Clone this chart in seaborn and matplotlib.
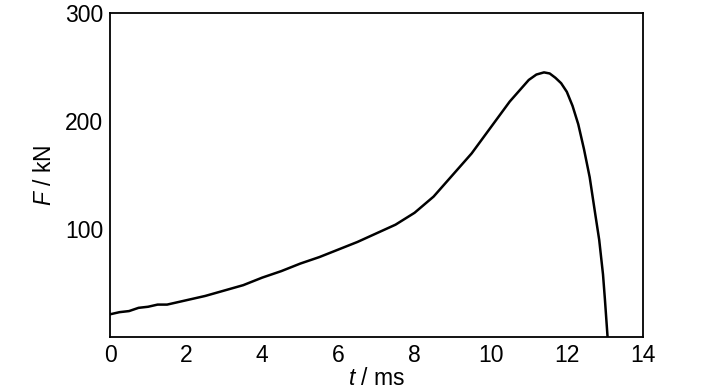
import matplotlib
matplotlib.use("Agg")
import matplotlib.pyplot as plt
import seaborn as sns
import pandas as pd
from matplotlib.ticker import MultipleLocator

t_ms = [0, 0.25, 0.5, 0.75, 1.0, 1.25, 1.5, 1.75, 2.0, 2.5, 3.0, 3.5, 4.0, 4.5, 5.0, 5.5, 6.0,
        6.5, 7.0, 7.5, 8.0, 8.5, 9.0, 9.5, 10.0, 10.5, 11.0, 11.2, 11.4, 11.55, 11.7,
        11.85, 12.0, 12.15, 12.3, 12.45, 12.6, 12.75, 12.85, 12.95, 13.0, 13.07]
F_kN = [21, 23, 24, 27, 28, 30, 30, 32, 34, 38, 43, 48, 55, 61, 68, 74, 81,
        88, 96, 104, 115, 130, 150, 170, 194, 218, 238, 243, 245, 244, 240,
        235, 227, 214, 197, 174, 148, 113, 90, 58, 35, 0]

df = pd.DataFrame({"t": t_ms, "F": F_kN})

sns.set_theme(style="white")
plt.rcParams["font.family"] = ["Liberation Sans", "DejaVu Sans"]
plt.rcParams["mathtext.fontset"] = "custom"
plt.rcParams["mathtext.it"] = "Liberation Sans:italic"
plt.rcParams["mathtext.rm"] = "Liberation Sans"
plt.rcParams["text.color"] = "black"
plt.rcParams["axes.labelcolor"] = "black"

fig = plt.figure(figsize=(7.28, 3.9), dpi=100)
ax = fig.add_axes([0.1511, 0.1359, 0.7321, 0.8308])
sns.lineplot(data=df, x="t", y="F", ax=ax, color="black", linewidth=1.8, sort=False)

ax.set_xlim(0, 14)
ax.set_ylim(0, 300)
ax.xaxis.set_major_locator(MultipleLocator(2))
ax.xaxis.set_minor_locator(MultipleLocator(1))
ax.set_yticks([100, 200, 300])
ax.yaxis.set_minor_locator(MultipleLocator(50))
ax.tick_params(which="major", direction="in", length=5, width=1.2, labelsize=16.5, colors="black",
               top=False, right=False, pad=5)
ax.tick_params(which="minor", direction="in", length=3, width=1.0, top=False, right=False)
for s in ax.spines.values():
    s.set_color("black")
    s.set_linewidth(1.3)

ax.set_xlabel(r"$\it{t}$ / ms", fontsize=16.5, labelpad=0)
ax.set_ylabel(r"$\it{F}$ / kN", fontsize=16.5, labelpad=6)

fig.savefig("out.png", dpi=100, facecolor="white")
